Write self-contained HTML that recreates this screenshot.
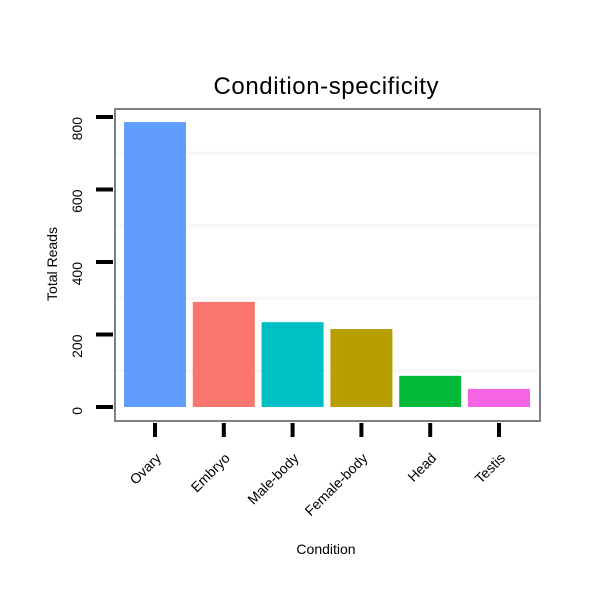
<!DOCTYPE html>
<html><head><meta charset="utf-8"><style>
body{margin:0;background:#fff;}
svg{display:block;font-family:"Liberation Sans",sans-serif;}
</style></head><body>
<svg id="chart" width="600" height="600">
<rect x="0" y="0" width="600" height="600" fill="#fff"/>
<text x="326" y="94" text-anchor="middle" font-size="24" textLength="225">Condition-specificity</text>
<text x="326" y="554" text-anchor="middle" font-size="14">Condition</text>
<text transform="translate(57,264) rotate(-90)" text-anchor="middle" font-size="14">Total Reads</text>
<g id="grid"></g><g id="bars"></g><g id="axes"></g>
<rect x="115" y="109" width="425" height="312" fill="none" stroke="#808080" stroke-width="2"/>
</svg>
<script>
const categories=["Ovary","Embryo","Male-body","Female-body","Head","Testis"];
const values=[786,290,234,215,86,50];
const colors=["#619CFF","#F8766D","#00BFC4","#B79F00","#00BA38","#F564E3"];
const yTicks=[0,200,400,600,800];
const yMinor=[100,300,500,700];
const NS="http://www.w3.org/2000/svg";
function y(v){return 407-v*0.3625;}
function xc(i){return 155+i*68.8;}
function mk(t,a,p){const e=document.createElementNS(NS,t);for(const k in a)e.setAttribute(k,a[k]);p.appendChild(e);return e;}
const grid=document.getElementById('grid'),bars=document.getElementById('bars'),axes=document.getElementById('axes');
yMinor.forEach(v=>{const l=mk('line',{x1:116,x2:539,y1:y(v),y2:y(v),stroke:'#f7f7f7','stroke-width':3},grid);

});
values.forEach((v,i)=>{const r=mk('rect',{x:xc(i)-31,y:y(v),width:62,height:y(0)-y(v),fill:colors[i]},bars);


const t=mk('line',{x1:xc(i),x2:xc(i),y1:423,y2:437,stroke:'#000','stroke-width':4},axes);


const lx=xc(i)+7,ly=459;
const tx=mk('text',{x:lx,y:ly,'text-anchor':'end','font-size':14,transform:`rotate(-45 ${lx} ${ly})`},axes);
tx.textContent=categories[i];

});
yTicks.forEach(v=>{const t=mk('line',{x1:96,x2:113,y1:y(v),y2:y(v),stroke:'#000','stroke-width':4},axes);


const tx=mk('text',{x:0,y:0,'text-anchor':'end','font-size':14,transform:`translate(82,${y(v)}) rotate(-90)`},axes);
tx.textContent=v;

});
</script>
</body></html>
